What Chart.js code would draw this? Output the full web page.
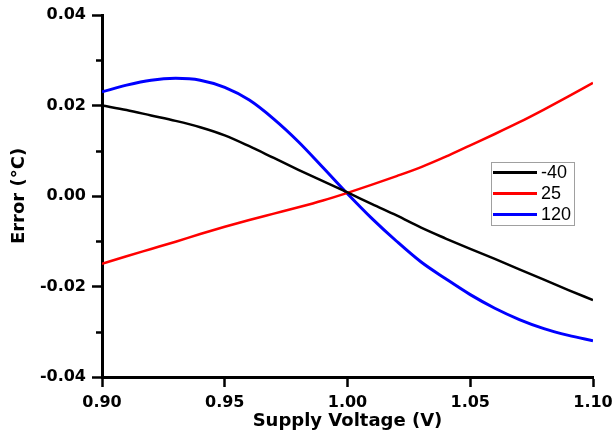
<!DOCTYPE html>
<html>
<head>
<meta charset="utf-8">
<script src="https://cdn.jsdelivr.net/npm/chart.js@4/dist/chart.umd.min.js"></script>
<style>
  html, body { margin: 0; padding: 0; background: #ffffff; }
  #wrap { width: 613px; height: 437px; position: relative; }
</style>
</head>
<body>
<div id="wrap"><canvas id="c" width="613" height="437"></canvas></div>
<script>
// ---- data ----
const voltages = [0.90, 0.91, 0.92, 0.93, 0.94, 0.95, 0.96, 0.97, 0.98, 0.99, 1.00,
                  1.01, 1.02, 1.03, 1.04, 1.05, 1.06, 1.07, 1.08, 1.09, 1.10];
const seriesLabels = ['-40', '25', '120'];
const seriesColors = ['#000000', '#ff0000', '#0000ff'];
const errMinus40 = [0.0200, 0.0190, 0.0178, 0.0166, 0.0152, 0.0134, 0.0110, 0.0084, 0.0058, 0.0033, 0.0008,
                    -0.0018, -0.0043, -0.0070, -0.0094, -0.0117, -0.0139, -0.0162, -0.0185, -0.0208, -0.0230];
const err25 = [-0.0150, -0.0133, -0.0117, -0.0101, -0.0084, -0.0068, -0.0053, -0.0039, -0.0025, -0.0010, 0.0007,
               0.0025, 0.0044, 0.0064, 0.0087, 0.0112, 0.0137, 0.0163, 0.0191, 0.0220, 0.0250];
const err120 = [0.0230, 0.0245, 0.0256, 0.0260, 0.0256, 0.0240, 0.0212, 0.0170, 0.0120, 0.0063, 0.0005,
                -0.0050, -0.0100, -0.0146, -0.0183, -0.0218, -0.0248, -0.0273, -0.0293, -0.0308, -0.0320];
const xTickValues = [0.90, 0.95, 1.00, 1.05, 1.10];
const yMajorTicks = [0.04, 0.02, 0.00, -0.02, -0.04];
const xTitle = 'Supply Voltage (V)';
const yTitle = 'Error (\u00B0C)';

const seriesValues = [errMinus40, err25, err120];
const datasets = seriesValues.map((vals, i) => ({
  label: seriesLabels[i],
  data: voltages.map((v, j) => ({ x: v, y: vals[j] })),
  borderColor: seriesColors[i],
  backgroundColor: seriesColors[i],
  borderWidth: i === 2 ? 3 : 2.5,
  pointRadius: 0,
  cubicInterpolationMode: 'monotone',
  fill: false
}));

const isMajorY = v => yMajorTicks.some(t => Math.abs(t - v) < 1e-6);

const tickFont = { family: 'DejaVu Sans', size: 16, weight: 'bold' };
const titleFont = { family: 'DejaVu Sans', size: 18, weight: 'bold', lineHeight: 1.2 };

// minor ticks on the y axis + legend box inside the plot
const extras = {
  id: 'extras',
  afterDraw(chart) {
    const ctx = chart.ctx;
    const y = chart.scales.y;
    const left = chart.chartArea.left;
    ctx.save();
    ctx.strokeStyle = '#000';
    ctx.lineWidth = 2.5;
    y.ticks.forEach(t => {
      if (!isMajorY(t.value)) {
        const py = Math.round(y.getPixelForValue(t.value)) + 0.5;
        ctx.beginPath();
        ctx.moveTo(left - 6, py);
        ctx.lineTo(left, py);
        ctx.stroke();
      }
    });
    // legend
    const bx = 491, by = 162, bw = 83, bh = 63;
    ctx.fillStyle = '#fff';
    ctx.fillRect(bx, by, bw, bh);
    ctx.strokeStyle = '#a0a0a0';
    ctx.lineWidth = 1;
    ctx.strokeRect(bx + 0.5, by + 0.5, bw, bh);
    ctx.font = '18px "Liberation Sans", Arial, sans-serif';
    ctx.textBaseline = 'middle';
    ctx.textAlign = 'left';
    chart.data.datasets.forEach((ds, i) => {
      const ry = by + 10.5 + i * 21;
      ctx.strokeStyle = ds.borderColor;
      ctx.lineWidth = 3;
      ctx.beginPath();
      ctx.moveTo(bx + 2, ry);
      ctx.lineTo(bx + 46, ry);
      ctx.stroke();
      ctx.fillStyle = '#000';
      ctx.fillText(ds.label, bx + 50, ry + 1);
    });
    ctx.restore();
  }
};

new Chart(document.getElementById('c'), {
  type: 'line',
  data: { datasets },
  options: {
    responsive: false,
    animation: false,
    layout: { padding: { top: 15, right: 20, left: 0, bottom: 0 } },
    plugins: { legend: { display: false }, tooltip: { enabled: false } },
    scales: {
      x: {
        type: 'linear',
        min: 0.90, max: 1.10,
        afterBuildTicks: s => { s.ticks = xTickValues.map(v => ({ value: v })); },
        afterFit: s => { s.height = 60; s.paddingLeft = 0; s.paddingRight = 0; },
        ticks: {
          color: '#000', font: tickFont, padding: 6, maxRotation: 0,
          callback: v => v.toFixed(2)
        },
        grid: { display: true, drawOnChartArea: false, drawTicks: true, tickLength: 10, tickColor: '#000', tickWidth: 2.5 },
        border: { display: true, color: '#000', width: 3 },
        title: { display: true, text: xTitle, color: '#000', font: titleFont, padding: { top: 0, bottom: 5 } }
      },
      y: {
        type: 'linear',
        min: -0.04, max: 0.04,
        ticks: {
          stepSize: 0.01, color: '#000', font: tickFont, padding: 6,
          callback: v => isMajorY(v) ? (Math.abs(v) < 1e-9 ? '0.00' : v.toFixed(2)) : ''
        },
        afterFit: s => { s.width = 102; s.paddingTop = 0; s.paddingBottom = 0; },
        grid: {
          display: true, drawOnChartArea: false, drawTicks: true, tickLength: 10, tickWidth: 2.5,
          tickColor: c => (c.tick && isMajorY(c.tick.value)) ? '#000' : 'rgba(0,0,0,0)'
        },
        border: { display: true, color: '#000', width: 3 },
        title: { display: true, text: yTitle, color: '#000', font: titleFont, padding: { top: 9, bottom: 0 } }
      }
    }
  },
  plugins: [extras]
});
</script>
</body>
</html>
